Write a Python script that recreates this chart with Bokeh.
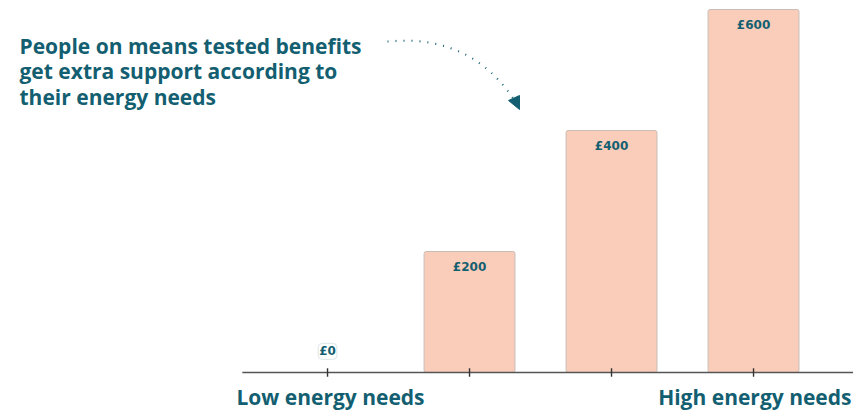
import numpy as np
from bokeh.plotting import figure
from bokeh.models import ColumnDataSource, Label
from bokeh.core.properties import value
from bokeh.embed import file_html
from bokeh.resources import INLINE

# Extra support amounts by energy-needs band
bands = [0, 1, 2, 3]
amounts = [0, 200, 400, 600]
amount_labels = ["£0", "£200", "£400", "£600"]
low_label = "Low energy needs"
high_label = "High energy needs"
note_lines = ["People on means tested benefits",
              "get extra support according to",
              "their energy needs"]

TEAL = "#135f71"
FONT = "Open Sans"
NUM_FONT = "DejaVu Sans"

p = figure(width=853, height=410, output_backend="svg", toolbar_location=None,
           x_range=(-2.303, 3.704), y_range=(-62.8, 614.9),
           min_border=0, outline_line_color=None)
p.axis.visible = False
p.grid.visible = False
p.background_fill_color = "white"
p.border_fill_color = "white"

bars = ColumnDataSource(dict(x=bands[1:], top=amounts[1:], lab=amount_labels[1:],
                             ly=[a - 25.6 for a in amounts[1:]]))
p.vbar(x="x", top="top", bottom=0, width=0.64, source=bars,
       fill_color="#f9cdb9", line_color="#c9bdb7", line_width=1, border_radius=2)

# baseline and ticks
p.segment(x0=[-0.6], y0=[0], x1=[3.704], y1=[0], line_color="#555555", line_width=1.6)
p.segment(x0=bands, y0=[-7] * 4, x1=bands, y1=[7] * 4, line_color="#333333", line_width=1.4)

# value labels inside bars
p.text(x="x", y="ly", text="lab", source=bars, text_font=value(NUM_FONT),
       text_font_style="bold", text_font_size="12px", text_color=TEAL,
       text_align="center", text_baseline="middle")

# zero label above the axis
p.text(x=[bands[0]], y=[35], text=[amount_labels[0]], text_font=value(NUM_FONT),
       text_font_style="bold", text_font_size="12px", text_color=TEAL,
       text_align="center", text_baseline="middle",
       background_fill_color="white", border_line_color="#dde6e8",
       border_line_width=1, padding=1, border_radius=4)

# end labels under the axis
p.add_layout(Label(x=236, y=0, x_units="screen", y_units="screen", text=low_label,
                   text_font=FONT, text_font_style="bold", text_font_size="21px",
                   text_color=TEAL, text_baseline="bottom"))
p.add_layout(Label(x=851, y=0, x_units="screen", y_units="screen", text=high_label,
                   text_font=FONT, text_font_style="bold", text_font_size="21px",
                   text_color=TEAL, text_align="right", text_baseline="bottom"))

# annotation
for i, line in enumerate(note_lines):
    p.add_layout(Label(x=19, y=410 - 45 - 25.5 * i, x_units="screen", y_units="screen",
                       text=line, text_font=FONT, text_font_style="bold",
                       text_font_size="21px", text_color=TEAL, text_baseline="middle"))

# dotted curved arrow (screen px -> data coords)
def to_data(px, py):
    x = -2.303 + px / 142.0
    y = (372 - py) / 0.605
    return x, y

t = np.linspace(0, 1, 60)
P0, P1, P2 = np.array([387, 41]), np.array([470, 33]), np.array([514, 100])
curve = ((1 - t) ** 2)[:, None] * P0 + (2 * (1 - t) * t)[:, None] * P1 + (t ** 2)[:, None] * P2
cx, cy = zip(*[to_data(a, b) for a, b in curve])
p.line(list(cx), list(cy), line_color=TEAL, line_width=2, line_dash="1 7")

tip = to_data(519, 109)
b1 = to_data(508, 100)
b2 = to_data(519, 95)
p.patch([tip[0], b1[0], b2[0]], [tip[1], b1[1], b2[1]], fill_color=TEAL, line_color=TEAL)

open("out.html", "w").write(file_html(p, INLINE))
